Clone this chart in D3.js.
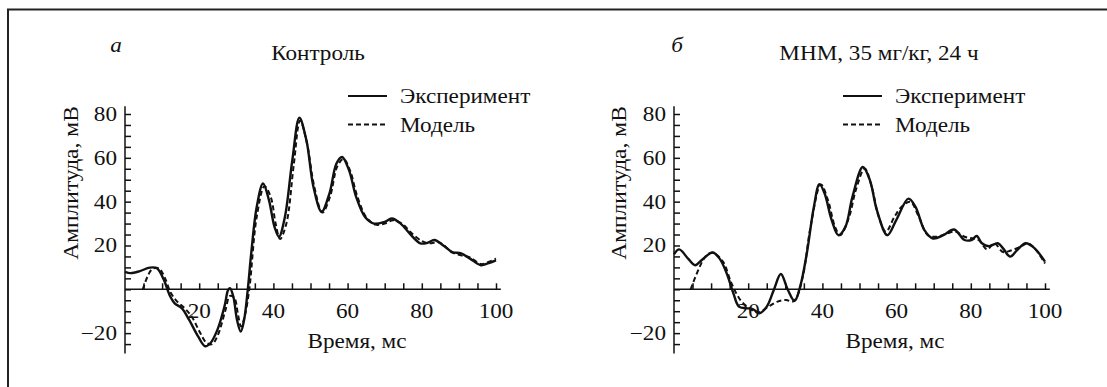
<!DOCTYPE html>
<html><head><meta charset="utf-8">
<script src="https://cdn.jsdelivr.net/npm/d3@7"></script>
<style>html,body{margin:0;padding:0;background:#fff;}</style>
</head>
<body><svg id="chart" width="1107" height="387"></svg>
<script>
// ---- Data (time in ms, amplitude in mV) ----
const ctrlExpX = [0,1.5,4,6.7,8.6,10.5,12,13.4,15.3,17.3,19.7,21.6,23,24.9,26.8,27.8,28.3,29.2,30.2,31.2,32.1,33.1,34,35.5,37.2,38.8,40.3,41.5,43.1,45.1,47,48.9,50.8,53,55.1,57,58.5,60.4,62.3,64.7,67.1,70,71.9,74.3,76.7,79.6,81.5,83.4,85.8,88.2,90.6,93,95.9,97.8,100];
const ctrlExpY = [8,7.4,8.3,9.9,9.6,4.2,-2.6,-6.4,-8.6,-14,-21.5,-26,-24.6,-18.5,-7.9,-0.3,0.5,-3.3,-14,-19.3,-14,0,16,37.6,48.3,40.7,28.5,24,33,58.9,78.3,68,46.7,35.4,43.7,57.4,60.4,54.3,42.2,33,30,30.8,32.3,30,25.5,21,21.2,22.5,20,17,16.4,14,11,11.8,13.2];
const ctrlModX = [4.8,7.2,9.1,10.8,12.3,14,16,18,20,22,23.5,25,27,28.3,29.5,30.5,31.3,32.3,33.5,35.5,37.6,39.3,40.6,41.8,43.5,45.5,47.2,49,51,53.2,55.3,57.2,58.9,60.7,62.5,65,67.5,70,72.3,75,77,80,82,84.5,86,88,90.6,93,96,98,100];
const ctrlModY = [0,9,9.6,5,-1.5,-5.5,-8.5,-12.5,-19,-24.5,-25,-21,-10,-3,-4,-12,-17,-12,0,33,47,42,30,23,30,57,77,67,47,35,42.5,56,59.5,54,43,33,29.5,30,31.5,29.5,26,22,21,21.5,20,17,15.5,14.5,11.5,12.5,14];

const mnmExpX = [0,1.4,3.8,5.7,7.5,10.4,12.3,14.2,16,17.5,19.3,21.2,23.1,25,26.9,28.8,30.7,32.5,34,35.8,37.7,39.2,40.6,42.5,44.3,46.2,48.1,50.9,52.8,54.7,57.5,59.9,63.2,65.1,67.5,69.8,72.6,75.5,78.3,80.2,81.6,83,84.9,87.3,88.7,90.6,92.5,94.8,97.2,100];
const mnmExpY = [16,18.2,14,11,13.4,16.8,14,7.3,-1.8,-7.9,-8.6,-9,-10.9,-7.9,-0.3,7,-0.3,-5.3,1.2,16.4,37.6,48,43.7,31.6,24.7,28.5,42.2,55.8,49.8,36,24.7,31.6,41.4,37.6,27,23.2,24.7,27.3,22.5,22.5,24.3,21,19.7,21,18.7,14.9,17.9,21,18.7,12.6];
const mnmModX = [4.5,8.5,10.4,13.2,15.5,17.9,20.3,22.6,25.5,27.9,30.2,32,33,34.9,36.8,39.6,41.5,43.4,44.8,47.2,49,51.4,53.3,55.2,57.1,59.4,61.3,63.7,66,68.4,70.8,73.6,75.9,78.3,80.7,82.1,84.4,86.3,88.7,90.6,93.4,95.3,97.2,100];
const mnmModY = [0,15,16.7,12.6,2.7,-4.9,-8.6,-10.6,-7.9,-5.6,-4.9,-5.6,-4,7.3,28.5,47.8,40.7,28.5,24.7,33,45.2,55.1,46.7,33,26.3,33,37.6,39.9,33,24.7,24,25.5,26.3,24,23.2,22.5,18.2,21,17,17.6,19.4,21,18.7,11.8];

const xTickLabels = [20,40,60,80,100];
const yTickLabels = [-20,20,40,60,80];
const seriesNames = ["Эксперимент","Модель"];
const panelTitles = ["Контроль","МНМ, 35 мг/кг, 24 ч"];
const panelLetters = ["а","б"];
const yTitle = "Амплитуда, мВ";
const xTitle = "Время, мс";

const FONT = "Liberation Serif";
const FS = 20.5, SX = 1.13;
const ink = "#111";
const svg = d3.select("#chart");

function T(g, x, y, s, anchor, opts) {
  opts = opts || {};
  const t = g.append("text")
    .attr("transform", `translate(${x},${y})` + (opts.rot ? ` rotate(${opts.rot})` : "") + ` scale(${opts.sx || SX},1)`)
    .attr("text-anchor", anchor || "start")
    .attr("font-family", FONT)
    .attr("font-size", opts.size || FS)
    .attr("fill", ink)
    .text(s);
  if (opts.italic) t.attr("font-style", "italic");
  return t;
}

// frame (top and left edges)
svg.append("path").attr("d","M8,387 L8,9.5 L1107,9.5").attr("fill","none").attr("stroke","#222").attr("stroke-width",2);

const panels = [
  {x0:125, x1:496, expX:ctrlExpX, expY:ctrlExpY, modX:ctrlModX, modY:ctrlModY, title:panelTitles[0], letter:panelLetters[0], titleX:318, letterX:116, legX:348, ylabX:71, xlabX:357},
  {x0:674, x1:1045, expX:mnmExpX, expY:mnmExpY, modX:mnmModX, modY:mnmModY, title:panelTitles[1], letter:panelLetters[1], titleX:879, letterX:677, legX:843, ylabX:619, xlabX:895}
];

panels.forEach(p => {
  const x = d3.scaleLinear().domain([0,100]).range([p.x0, p.x1]);
  const y = d3.scaleLinear().domain([0,80]).range([289.3, 114]);
  const g = svg.append("g");

  // x axis: ticks every 5 ms pointing up from the zero line
  const xa = g.append("g").attr("transform",`translate(0,${y(0)})`)
    .call(d3.axisTop(x).tickValues(d3.range(5,101,5)).tickSize(6).tickSizeOuter(0).tickFormat(""));
  xa.select(".domain").attr("d",`M${x(0)},0H${x(101.3)}`);
  xa.selectAll("line,path").attr("stroke",ink).attr("stroke-width",1.5);
  xTickLabels.forEach(v => T(g, x(v), y(0) + 29, String(v), "middle"));

  // y axis: ticks every 5 mV pointing right
  const ya = g.append("g").attr("transform",`translate(${x(0)},0)`)
    .call(d3.axisRight(y).tickValues(d3.range(-25,81,5)).tickSize(6).tickSizeOuter(0).tickFormat(""));
  ya.select(".domain").attr("d",`M0,${y(83.5)}V${y(-29.3)}`);
  ya.selectAll("line,path").attr("stroke",ink).attr("stroke-width",1.5);
  yTickLabels.forEach(v => T(g, x(0) - 8, y(v) + 7, v < 0 ? "\u2212" + Math.abs(v) : String(v), "end"));

  // curves
  const line = d3.line().x(d => x(d[0])).y(d => y(d[1])).curve(d3.curveCatmullRom.alpha(0.5));
  const mod = p.modX.map((v,i) => [v, p.modY[i]]);
  const exp = p.expX.map((v,i) => [v, p.expY[i]]);
  g.append("path").attr("d",line(mod)).attr("fill","none").attr("stroke",ink).attr("stroke-width",2).attr("stroke-dasharray","5,3");
  g.append("path").attr("d",line(exp)).attr("fill","none").attr("stroke",ink).attr("stroke-width",2.4);

  // titles
  T(g, p.titleX, 60, p.title, "middle");
  T(g, p.letterX, 52, p.letter, "middle", {italic:true});
  T(g, p.ylabX + 7, 183, yTitle, "middle", {rot:-90, sx:1.12, size:21});
  T(g, p.xlabX, 348, xTitle, "middle");

  // legend
  seriesNames.forEach((n,i) => {
    const ly = 96 + i*28.5;
    g.append("line").attr("x1",p.legX).attr("x2",p.legX+39).attr("y1",ly).attr("y2",ly)
      .attr("stroke",ink).attr("stroke-width",2.2).attr("stroke-dasharray", i ? "5,3" : null);
    T(g, p.legX + 52, ly + 7, n, "start");
  });
});
</script></body></html>
